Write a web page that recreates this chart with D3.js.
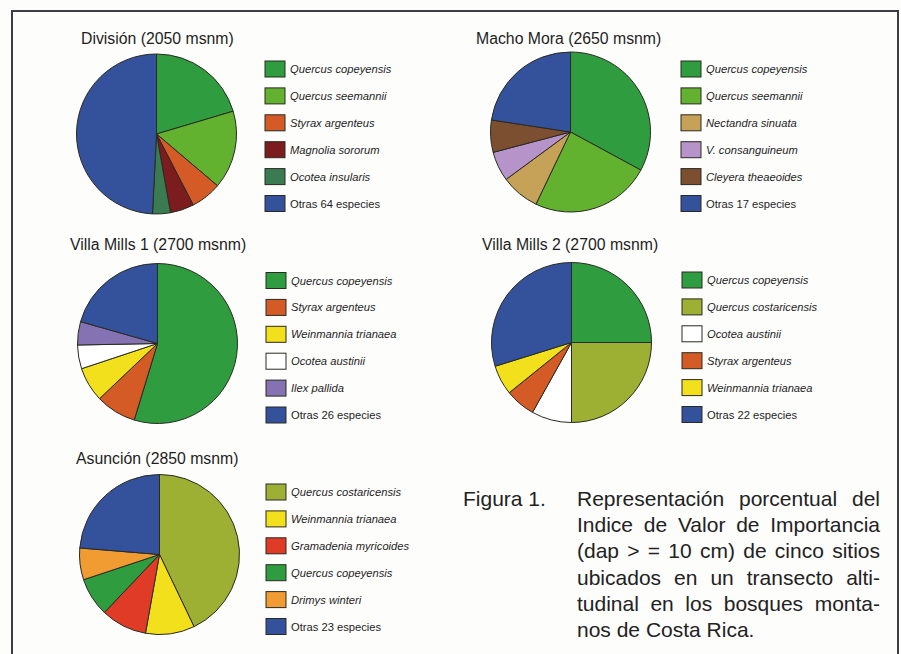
<!DOCTYPE html>
<html>
<head>
<meta charset="utf-8">
<script src="https://cdn.jsdelivr.net/npm/d3@7"></script>
<style>
  body { margin: 0; background: #fdfdfc; }
  svg { display: block; font-family: "Liberation Sans", Arial, Helvetica, sans-serif; }
</style>
</head>
<body>
<svg id="chart" width="901" height="654"></svg>
<script>
// ---------- DATA ----------
const siteTitles = ["División (2050 msnm)", "Macho Mora (2650 msnm)", "Villa Mills 1 (2700 msnm)", "Villa Mills 2 (2700 msnm)", "Asunción (2850 msnm)"];

const divisionSpecies = ["Quercus copeyensis", "Quercus seemannii", "Styrax argenteus", "Magnolia sororum", "Ocotea insularis", "Otras 64 especies"];
const divisionValues  = [20.4, 15.8, 6.2, 4.8, 3.6, 49.2];

const machoMoraSpecies = ["Quercus copeyensis", "Quercus seemannii", "Nectandra sinuata", "V. consanguineum", "Cleyera theaeoides", "Otras 17 especies"];
const machoMoraValues  = [32.9, 24.2, 7.8, 6.0, 6.5, 22.6];

const villaMills1Species = ["Quercus copeyensis", "Styrax argenteus", "Weinmannia trianaea", "Ocotea austinii", "Ilex pallida", "Otras 26 especies"];
const villaMills1Values  = [54.7, 8.2, 7.0, 4.8, 4.7, 20.6];

const villaMills2Species = ["Quercus copeyensis", "Quercus costaricensis", "Ocotea austinii", "Styrax argenteus", "Weinmannia trianaea", "Otras 22 especies"];
const villaMills2Values  = [25.0, 25.0, 8.1, 6.1, 6.0, 29.8];

const asuncionSpecies = ["Quercus costaricensis", "Weinmannia trianaea", "Gramadenia myricoides", "Quercus copeyensis", "Drimys winteri", "Otras 23 especies"];
const asuncionValues  = [42.9, 9.9, 9.3, 7.8, 6.4, 23.7];

const captionLabel = "Figura 1.";
const captionLines = [
  "Representación porcentual del",
  "Indice de Valor de Importancia",
  "(dap > = 10 cm) de cinco sitios",
  "ubicados en un transecto alti-",
  "tudinal en los bosques monta-",
  "nos de Costa Rica."
];

// ---------- STYLE ----------
const speciesColor = {
  "Quercus copeyensis": "#2f9d3f",
  "Quercus seemannii": "#62b22f",
  "Styrax argenteus": "#d45a26",
  "Magnolia sororum": "#7c1c1e",
  "Ocotea insularis": "#3a7b52",
  "Nectandra sinuata": "#c5a257",
  "V. consanguineum": "#b693c9",
  "Cleyera theaeoides": "#7b4f30",
  "Weinmannia trianaea": "#f3e01c",
  "Ocotea austinii": "#ffffff",
  "Ilex pallida": "#8472b2",
  "Quercus costaricensis": "#9db034",
  "Gramadenia myricoides": "#df3b27",
  "Drimys winteri": "#f19b33",
  "otras": "#34519c"
};
const colorOf = name => name.startsWith("Otras") ? speciesColor.otras : speciesColor[name];

// ---------- LAYOUT ----------
const panels = [
  { title: siteTitles[0], species: divisionSpecies,    values: divisionValues,    tx: 81,  ty: 44,  cx: 156.5, cy: 134,   lx: 265, ly: 69 },
  { title: siteTitles[1], species: machoMoraSpecies,   values: machoMoraValues,   tx: 476, ty: 44,  cx: 570.5, cy: 132,   lx: 681, ly: 69 },
  { title: siteTitles[2], species: villaMills1Species, values: villaMills1Values, tx: 70,  ty: 250, cx: 157.5, cy: 343.5, lx: 266, ly: 280.5 },
  { title: siteTitles[3], species: villaMills2Species, values: villaMills2Values, tx: 482, ty: 250, cx: 571.5, cy: 342.5, lx: 682, ly: 280 },
  { title: siteTitles[4], species: asuncionSpecies,    values: asuncionValues,    tx: 76,  ty: 464, cx: 159.5, cy: 554.5, lx: 266, ly: 492 }
];
const R = 80;
const rowStep = 26.9;

const svg = d3.select("#chart");

// frame
svg.append("path")
  .attr("d", "M12,660 L12,11 L898,11 L898,660")
  .attr("fill", "none").attr("stroke", "#3c3c44").attr("stroke-width", 2);

const pie = d3.pie().sort(null).value(d => d.v);
const arc = d3.arc().innerRadius(0).outerRadius(R);

panels.forEach(p => {
  const data = p.species.map((s, i) => ({ s, v: p.values[i] }));
  const g = svg.append("g");

  g.append("text")
    .attr("x", p.tx).attr("y", p.ty)
    .attr("font-size", 15.8).attr("fill", "#1e1e1e")
    .text(p.title);

  const pg = g.append("g").attr("transform", `translate(${p.cx},${p.cy})`);
  pg.selectAll("path").data(pie(data)).join("path")
    .attr("d", arc)
    .attr("fill", d => colorOf(d.data.s))
    .attr("stroke", "#2a2a22").attr("stroke-width", 1)
    .attr("stroke-linejoin", "round");

  const lg = g.append("g").attr("transform", `translate(${p.lx},${p.ly})`);
  const rows = lg.selectAll("g").data(data).join("g")
    .attr("transform", (d, i) => `translate(0,${i * rowStep})`);
  rows.append("rect")
    .attr("x", 0).attr("y", -8).attr("width", 20).attr("height", 16)
    .attr("fill", d => colorOf(d.s))
    .attr("stroke", "#2a2a22").attr("stroke-width", 1);
  rows.append("text")
    .attr("x", 25).attr("y", 4)
    .attr("font-size", 11.2).attr("fill", "#1e1e1e")
    .attr("font-style", d => d.s.startsWith("Otras") ? "normal" : "italic")
    .text(d => d.s);
});

// caption
const cap = svg.append("g").attr("font-size", 21).attr("fill", "#222");
cap.append("text").attr("x", 463).attr("y", 506).text(captionLabel);
const x0 = 577, x1 = 880, lineH = 26.2, y0 = 506;
captionLines.forEach((line, li) => {
  const y = y0 + li * lineH;
  const words = line.split(" ");
  const last = li === captionLines.length - 1;
  if (last) {
    cap.append("text").attr("x", x0).attr("y", y).text(line);
    return;
  }
  const nodes = words.map(w => cap.append("text").attr("y", y).text(w));
  const widths = nodes.map(n => n.node().getComputedTextLength());
  const total = d3.sum(widths);
  const gap = (x1 - x0 - total) / (words.length - 1);
  let x = x0;
  nodes.forEach((n, i) => { n.attr("x", x); x += widths[i] + gap; });
});
</script>
</body>
</html>
